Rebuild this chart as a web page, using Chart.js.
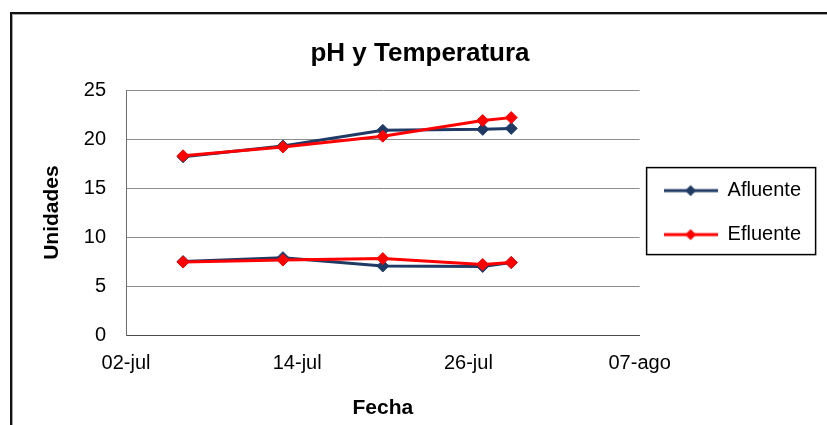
<!DOCTYPE html>
<html><head><meta charset="utf-8">
<script src="https://cdn.jsdelivr.net/npm/chart.js@4.4.1/dist/chart.umd.min.js"></script>
<style>
html,body{margin:0;padding:0;background:#fff;}
#wrap{position:relative;width:827px;height:425px;overflow:hidden;}
#frame{position:absolute;left:10px;top:12px;width:900px;height:500px;border-left:2px solid #111;border-top:2px solid #111;pointer-events:none;box-shadow:inset 1px 1px 0 #aaa;}
canvas{position:absolute;left:0;top:0;}
</style></head><body>
<div id="wrap"><canvas id="c" width="827" height="425"></canvas><div id="frame"></div></div>
<script>
// ---- data ----
const fechas = ['06-jul','13-jul','20-jul','27-jul','29-jul'];
const temperaturaAfluente = [18.2, 19.3, 20.9, 21.0, 21.1];
const temperaturaEfluente = [18.3, 19.2, 20.3, 21.9, 22.2];
const phAfluente = [7.5, 7.9, 7.05, 7.0, 7.4];
const phEfluente = [7.45, 7.65, 7.8, 7.2, 7.4];
const xTickLabels = ['02-jul','14-jul','26-jul','07-ago'];
const seriesNames = ['Afluente','Efluente'];
const chartTitle = 'pH y Temperatura';
const xTitle = 'Fecha';
const yTitle = 'Unidades';

const colAfl = '#1F3A64';
const colEfl = '#FF0000';

const meses = {jul:7, ago:8};
function dayOffset(s){
  const [d, m] = s.split('-');
  const t = Date.UTC(2000, meses[m]-1, parseInt(d,10));
  const [d0, m0] = xTickLabels[0].split('-');
  const t0 = Date.UTC(2000, meses[m0]-1, parseInt(d0,10));
  return Math.round((t - t0) / 86400000);
}
const xs = fechas.map(dayOffset);
const xMax = dayOffset(xTickLabels[xTickLabels.length-1]);
const pts = arr => arr.map((v,i)=>({x: xs[i], y: v}));

function marker(color){
  const c = document.createElement('canvas');
  c.width = 54; c.height = 14;
  const g = c.getContext('2d');
  g.strokeStyle = color; g.lineWidth = 3;
  g.beginPath(); g.moveTo(0,7); g.lineTo(54,7); g.stroke();
  g.fillStyle = color;
  g.beginPath(); g.moveTo(27,1.5); g.lineTo(32.5,7); g.lineTo(27,12.5); g.lineTo(21.5,7); g.closePath(); g.fill();
  return c;
}
const markers = {Afluente: marker(colAfl), Efluente: marker(colEfl)};

function ds(label, data, color, showInLegend){
  return {label, data: pts(data), borderColor: color, backgroundColor: color,
    borderWidth: 3, pointStyle: 'rectRot', pointRadius: 6, pointBorderWidth: 1,
    pointBackgroundColor: color, pointBorderColor: color, tension: 0, showInLegend};
}

const legendBox = {
  id: 'legendBox',
  afterDraw(chart){
    const lg = chart.legend;
    if (!lg || !lg.legendHitBoxes || !lg.legendHitBoxes.length) return;
    const hb = lg.legendHitBoxes[0];
    const ctx = chart.ctx;
    ctx.save();
    ctx.strokeStyle = '#000'; ctx.lineWidth = 1.5;
    ctx.strokeRect(lg.left + 7, hb.top - 13, 169, 87);
    ctx.restore();
  }
};

new Chart(document.getElementById('c'), {
  type: 'line',
  data: {
    datasets: [
      ds(seriesNames[1], temperaturaEfluente, colEfl, true),
      ds(seriesNames[1], phEfluente, colEfl, false),
      ds(seriesNames[0], temperaturaAfluente, colAfl, true),
      ds(seriesNames[0], phAfluente, colAfl, false)
    ]
  },
  options: {
    responsive: false,
    animation: false,
    layout: {padding: {left: 29, right: 16, top: 0, bottom: 0}},
    plugins: {
      tooltip: {enabled: false},
      title: {display: true, text: chartTitle, color: '#000',
        font: {family: 'Liberation Sans, Arial, sans-serif', size: 26, weight: 'bold'},
        padding: {top: 38, bottom: 21}},
      legend: {
        position: 'right', fullSize: false, align: 'center',
        labels: {
          usePointStyle: true, pointStyleWidth: 54, padding: 24, color: '#000',
          font: {family: 'Liberation Sans, Arial, sans-serif', size: 20},
          generateLabels(chart){
            const items = Chart.defaults.plugins.legend.labels.generateLabels(chart);
            return items.filter(it => chart.data.datasets[it.datasetIndex].showInLegend)
              .map(it => { it.pointStyle = markers[it.text]; return it; })
              .sort((a,b) => seriesNames.indexOf(a.text) - seriesNames.indexOf(b.text));
          }
        }
      }
    },
    scales: {
      x: {
        type: 'linear', min: 0, max: xMax,
        grid: {display: false, drawTicks: false},
        border: {display: true, color: '#4a4a4a', width: 1},
        ticks: {stepSize: 12, padding: 16, color: '#000', maxRotation: 0,
          font: {family: 'Liberation Sans, Arial, sans-serif', size: 20},
          callback: (v, i) => xTickLabels[i]},
        title: {display: true, text: xTitle, color: '#000',
          font: {family: 'Liberation Sans, Arial, sans-serif', size: 21, weight: 'bold'},
          padding: {top: 0, bottom: 4}},
        afterFit: s => { s.height = 90; }
      },
      y: {
        min: 0, max: 25,
        grid: {color: '#8c8c8c', drawTicks: false, lineWidth: 1},
        border: {display: true, color: '#6e6e6e', width: 1},
        ticks: {stepSize: 5, padding: 20, color: '#000',
          font: {family: 'Liberation Sans, Arial, sans-serif', size: 20}},
        title: {display: true, text: yTitle, color: '#000',
          font: {family: 'Liberation Sans, Arial, sans-serif', size: 21, weight: 'bold'},
          padding: {top: 11, bottom: 0}},
        afterFit: s => { s.width = 97; }
      }
    }
  },
  plugins: [legendBox]
});
</script>
</body></html>
